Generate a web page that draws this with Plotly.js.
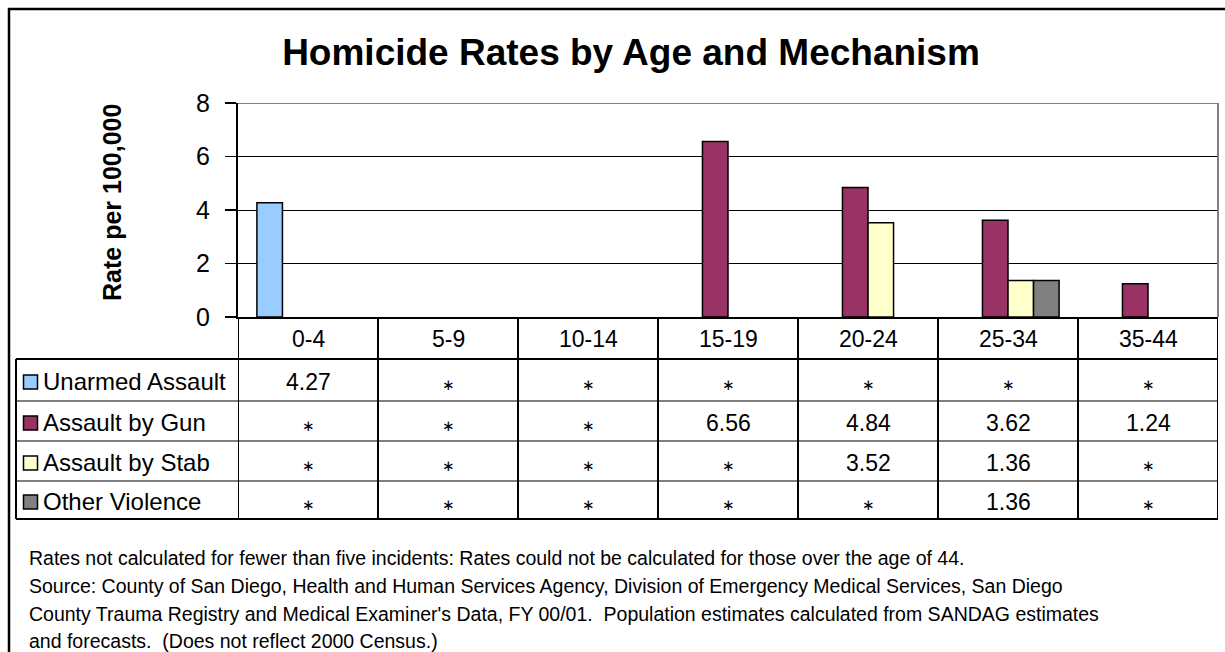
<!DOCTYPE html>
<html>
<head>
<meta charset="utf-8">
<script src="https://cdn.plot.ly/plotly-3.0.1.min.js"></script>
<style>
  html, body { margin: 0; padding: 0; background: #ffffff; }
  #chart { width: 1225px; height: 652px; }
</style>
</head>
<body>
<div id="chart"></div>
<script>
// ---------------- data ----------------
const ageGroups = ['0-4', '5-9', '10-14', '15-19', '20-24', '25-34', '35-44'];
const seriesNames = ['Unarmed Assault', 'Assault by Gun', 'Assault by Stab', 'Other Violence'];
const unarmedAssault = [4.27, null, null, null, null, null, null];
const assaultByGun   = [null, null, null, 6.56, 4.84, 3.62, 1.24];
const assaultByStab  = [null, null, null, null, 3.52, 1.36, null];
const otherViolence  = [null, null, null, null, null, 1.36, null];
const yTicks = [0, 2, 4, 6, 8];
const chartTitle = 'Homicide Rates by Age and Mechanism';
const yTitle = 'Rate per 100,000';
const notes = [
  'Rates not calculated for fewer than five incidents: Rates could not be calculated for those over the age of 44.',
  'Source: County of San Diego, Health and Human Services Agency, Division of Emergency Medical Services, San Diego',
  "County Trauma Registry and Medical Examiner's Data, FY 00/01.  Population estimates calculated from SANDAG estimates",
  'and forecasts.  (Does not reflect 2000 Census.)'
];

// ---------------- styling / layout constants ----------------
const W = 1225, H = 652;
const plotL = 238, plotR = 1218, plotT = 103, plotB = 317;
const colors = ['#99CCFF', '#993366', '#FFFFCC', '#808080'];
const seriesValues = [unarmedAssault, assaultByGun, assaultByStab, otherViolence];
const FONT = 'Liberation Sans, Arial, Helvetica, sans-serif';

// pixel -> paper helpers
const px = v => (v - plotL) / (plotR - plotL);
const py = v => (plotB - v) / (plotB - plotT);

// table rows (pixel boundaries)
const headerTop = plotB, headerBot = 359;
const rowBounds = [359, 401, 441, 481, 519];
const tableLeft = 16;

const traces = seriesNames.map((name, i) => ({
  type: 'bar',
  name: name,
  x: ageGroups,
  y: seriesValues[i],
  marker: { color: colors[i], line: { color: '#000000', width: 1.5 } },
  hoverinfo: 'x+y+name'
}));

const shapes = [];
const annotations = [];

// outer chart border (extends past right and bottom edges)
shapes.push({ type: 'rect', xref: 'paper', yref: 'paper',
  x0: px(9), x1: px(1262), y0: py(9), y1: py(670),
  line: { color: '#000000', width: 2.5 }, fillcolor: 'rgba(0,0,0,0)', layer: 'below' });

// plot-area border top/right (grey)
shapes.push({ type: 'line', xref: 'paper', yref: 'y', x0: 0, x1: 1, y0: 8, y1: 8,
  line: { color: '#808080', width: 2 } });
shapes.push({ type: 'line', xref: 'paper', yref: 'paper', x0: 1, x1: 1, y0: 0, y1: 1,
  line: { color: '#808080', width: 2 } });

// table vertical lines at category boundaries
for (let k = 0; k <= ageGroups.length; k++) {
  shapes.push({ type: 'line', xref: 'x', yref: 'paper',
    x0: k - 0.5, x1: k - 0.5, y0: py(headerTop), y1: py(rowBounds[rowBounds.length - 1]),
    line: { color: '#000000', width: 2 } });
}
// table left border
shapes.push({ type: 'line', xref: 'paper', yref: 'paper',
  x0: px(tableLeft), x1: px(tableLeft), y0: py(rowBounds[0]), y1: py(rowBounds[rowBounds.length - 1]),
  line: { color: '#000000', width: 2 } });
// table horizontal lines
rowBounds.forEach((b, i) => {
  const thick = (i === 0 || i === rowBounds.length - 1);
  shapes.push({ type: 'line', xref: 'paper', yref: 'paper',
    x0: px(tableLeft), x1: 1, y0: py(b), y1: py(b),
    line: { color: '#000000', width: thick ? 2 : 1 } });
});

// header row: category labels
ageGroups.forEach(g => {
  annotations.push({ xref: 'x', yref: 'paper', x: g, y: py((headerTop + headerBot) / 2 + 1),
    text: g, showarrow: false, xanchor: 'center', yanchor: 'middle',
    font: { family: FONT, size: 23, color: '#000000' } });
});

// rows: legend key + values
seriesNames.forEach((name, i) => {
  const top = rowBounds[i], bot = rowBounds[i + 1];
  const mid = (top + bot) / 2;
  // legend swatch
  shapes.push({ type: 'rect', xref: 'paper', yref: 'paper',
    x0: px(23.5), x1: px(37.5), y0: py(mid - 5), y1: py(mid + 9),
    fillcolor: colors[i], line: { color: '#000000', width: 1.5 } });
  annotations.push({ xref: 'paper', yref: 'paper', x: px(41), y: py(mid + 1.5),
    text: name, showarrow: false, xanchor: 'left', yanchor: 'middle',
    font: { family: FONT, size: 24, color: '#000000' } });
  seriesValues[i].forEach((v, j) => {
    if (v !== null) {
      annotations.push({ xref: 'x', yref: 'paper', x: ageGroups[j], y: py(mid + 1.5),
        text: v.toFixed(2), showarrow: false, xanchor: 'center', yanchor: 'middle',
        font: { family: FONT, size: 23, color: '#000000' } });
    } else {
      annotations.push({ xref: 'x', yref: 'paper', x: ageGroups[j], y: py(mid + 5),
        text: '\u2217', showarrow: false, xanchor: 'center', yanchor: 'middle',
        font: { family: 'DejaVu Sans, sans-serif', size: 15, color: '#000000' } });
    }
  });
});

// y-axis title
annotations.push({ xref: 'paper', yref: 'paper', x: px(112), y: py(203),
  text: '<b>' + yTitle + '</b>', showarrow: false, textangle: -90,
  xanchor: 'center', yanchor: 'middle',
  font: { family: FONT, size: 25, color: '#000000' } });

// footnotes
const noteCenters = [558, 586, 614, 641];
notes.forEach((t, i) => {
  annotations.push({ xref: 'paper', yref: 'paper', x: px(27), y: py(noteCenters[i]),
    text: t, showarrow: false, xanchor: 'left', yanchor: 'middle',
    font: { family: FONT, size: 19.5, color: '#000000' } });
});

const layout = {
  width: W, height: H,
  margin: { l: plotL, r: W - plotR, t: plotT, b: H - plotB, pad: 0 },
  paper_bgcolor: '#ffffff',
  plot_bgcolor: '#ffffff',
  showlegend: false,
  barmode: 'group',
  bargap: 0.27,
  bargroupgap: 0,
  title: {
    text: '<b>' + chartTitle + '</b>',
    x: 631 / W, xanchor: 'center', xref: 'container',
    y: 1 - 52 / H, yanchor: 'middle', yref: 'container',
    font: { family: FONT, size: 37, color: '#000000' }
  },
  xaxis: {
    type: 'category',
    categoryorder: 'array', categoryarray: ageGroups,
    range: [-0.5, ageGroups.length - 0.5],
    showticklabels: false, ticks: '',
    showgrid: false, zeroline: false,
    showline: true, linecolor: '#000000', linewidth: 2,
    fixedrange: true
  },
  yaxis: {
    range: [0, 8],
    tickvals: yTicks,
    ticktext: yTicks.map(String),
    ticks: 'outside', ticklen: 11, tickwidth: 1.5, tickcolor: '#000000',
    ticklabelstandoff: 10,
    tickfont: { family: FONT, size: 25, color: '#000000' },
    showgrid: true, gridcolor: '#000000', gridwidth: 1,
    zeroline: false,
    showline: true, linecolor: '#000000', linewidth: 2,
    fixedrange: true
  },
  shapes: shapes,
  annotations: annotations
};

Plotly.newPlot('chart', traces, layout, { displayModeBar: false, staticPlot: true });
</script>
</body>
</html>
